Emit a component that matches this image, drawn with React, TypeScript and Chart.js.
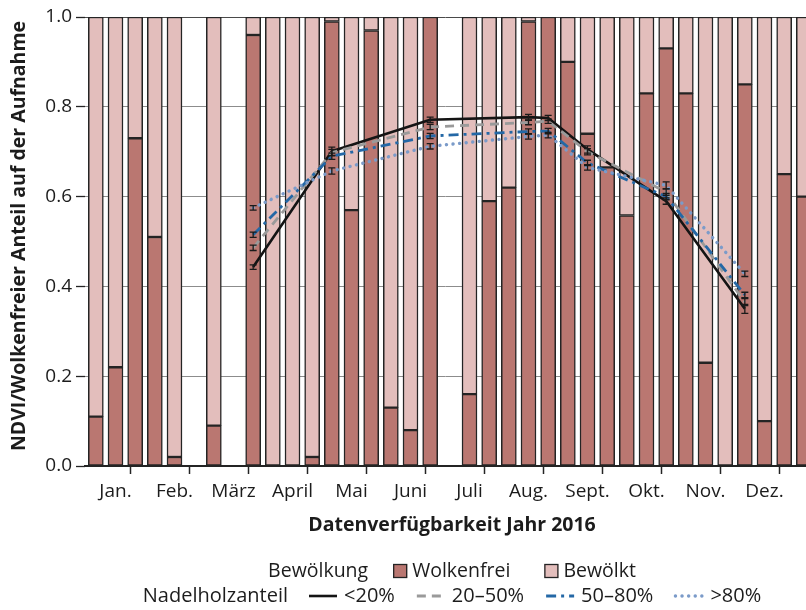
import React, { useEffect, useRef } from "react";
import { Chart, registerables } from "chart.js";

Chart.register(...registerables);

// ---------- data ----------
const monthLabels = ["Jan.", "Feb.", "März", "April", "Mai", "Juni", "Juli", "Aug.", "Sept.", "Okt.", "Nov.", "Dez."];

// cloud-free share per acquisition slot (3 slots per month, plus the first slot of Jan 2017); null = no image
const wolkenfrei: (number | null)[] = [
  0.11, 0.22, 0.73,
  0.51, 0.02, null,
  0.09, null, 0.96,
  0.0, 0.0, 0.02,
  0.99, 0.57, 0.97,
  0.13, 0.08, 1.0,
  null, 0.16, 0.59,
  0.62, 0.99, 1.0,
  0.9, 0.74, 0.665,
  0.558, 0.83, 0.93,
  0.83, 0.23, 0.0,
  0.85, 0.1, 0.65,
  0.6,
];

// slots at which NDVI was measured
const ndviSlots = [8, 12, 17, 22, 23, 25, 29, 33];
const ndviUnder20 = [0.443, 0.701, 0.771, 0.777, 0.775, 0.705, 0.59, 0.35];
const ndvi20to50 = [0.486, 0.698, 0.755, 0.765, 0.768, 0.7, 0.61, 0.365];
const ndvi50to80 = [0.515, 0.69, 0.735, 0.745, 0.746, 0.675, 0.6, 0.381];
const ndviOver80 = [0.575, 0.657, 0.712, 0.734, 0.737, 0.665, 0.625, 0.428];
const errUnder20 = [0.005, 0.009, 0.006, 0.006, 0.006, 0.008, 0.007, 0.01];
const err20to50 = [0.006, 0.007, 0.006, 0.005, 0.005, 0.007, 0.007, 0.008];
const err50to80 = [0.006, 0.007, 0.006, 0.006, 0.006, 0.006, 0.007, 0.006];
const errOver80 = [0.005, 0.007, 0.006, 0.006, 0.006, 0.006, 0.008, 0.006];

const yTicks = [0, 0.2, 0.4, 0.6, 0.8, 1.0];

// ---------- styles ----------
const FONT = "'Open Sans', 'DejaVu Sans', sans-serif";
const TEXT = "#1c1c1c";
const EDGE = "#242424";
const CLEAR_COL = "#ba7771";
const CLOUD_COL = "#e3bebc";

const slotPos = (k: number) => Math.floor(k / 3) + ((k % 3) + 0.5) / 3;

type Series = {
  label: string;
  values: number[];
  errors: number[];
  color: string;
  dash: number[];
  width: number;
  cap: CanvasLineCap;
};

const lineSeries: Series[] = [
  { label: "<20%", values: ndviUnder20, errors: errUnder20, color: "#141414", dash: [], width: 2.6, cap: "butt" },
  { label: "20–50%", values: ndvi20to50, errors: err20to50, color: "#9a9a9a", dash: [9, 6], width: 2.8, cap: "butt" },
  { label: "50–80%", values: ndvi50to80, errors: err50to80, color: "#2468a6", dash: [10, 5, 3, 5], width: 2.8, cap: "butt" },
  { label: ">80%", values: ndviOver80, errors: errOver80, color: "#7b9bc9", dash: [0.1, 6.5], width: 3.4, cap: "round" },
];

const extrasPlugin = {
  id: "extras",
  afterDatasetsDraw(chart: any) {
    const ctx: CanvasRenderingContext2D = chart.ctx;
    const xs = chart.scales.x;
    const ys = chart.scales.y;
    ctx.save();
    ctx.strokeStyle = "#1a1a1a";
    ctx.lineWidth = 1.3;
    ctx.setLineDash([]);
    lineSeries.forEach((s) => {
      s.values.forEach((v, j) => {
        const e = s.errors[j];
        const x = xs.getPixelForValue(slotPos(ndviSlots[j]));
        const y1 = ys.getPixelForValue(v - e);
        const y2 = ys.getPixelForValue(v + e);
        ctx.beginPath();
        ctx.moveTo(x, y1);
        ctx.lineTo(x, y2);
        ctx.moveTo(x - 3.5, y1);
        ctx.lineTo(x + 3.5, y1);
        ctx.moveTo(x - 3.5, y2);
        ctx.lineTo(x + 3.5, y2);
        ctx.stroke();
      });
    });
    ctx.restore();
  },
  afterDraw(chart: any) {
    const ctx: CanvasRenderingContext2D = chart.ctx;
    const cx = 452;
    ctx.save();
    ctx.fillStyle = TEXT;

    // axis titles
    ctx.font = `bold 19.5px ${FONT}`;
    ctx.textAlign = "center";
    ctx.textBaseline = "middle";
    ctx.fillText("Datenverfügbarkeit Jahr 2016", cx, 525);
    ctx.save();
    ctx.translate(19, 236);
    ctx.rotate(-Math.PI / 2);
    ctx.fillText("NDVI/Wolkenfreier Anteil auf der Aufnahme", 0, 0);
    ctx.restore();

    // legend
    ctx.textAlign = "left";
    type Item = { label: string; draw: (x: number, y: number) => void; w: number };
    const boxItem = (label: string, color: string): Item => ({
      label,
      w: 14,
      draw: (x, y) => {
        ctx.fillStyle = color;
        ctx.fillRect(x, y - 7, 14, 14);
        ctx.strokeStyle = EDGE;
        ctx.lineWidth = 1.3;
        ctx.setLineDash([]);
        ctx.strokeRect(x + 0.5, y - 6.5, 13, 13);
      },
    });
    const lineItem = (s: Series): Item => ({
      label: s.label,
      w: 29,
      draw: (x, y) => {
        ctx.strokeStyle = s.color;
        ctx.lineWidth = s.width;
        ctx.lineCap = s.cap;
        ctx.setLineDash(s.dash);
        ctx.beginPath();
        ctx.moveTo(x + 1, y);
        ctx.lineTo(x + 29, y);
        ctx.stroke();
        ctx.setLineDash([]);
        ctx.lineCap = "butt";
      },
    });
    const drawRow = (
      y: number,
      font: string,
      title: string,
      items: Item[],
      titleGap: number,
      symGap: number,
      itemGap: number
    ) => {
      ctx.font = font;
      const tw = ctx.measureText(title).width;
      const widths = items.map((it) => ctx.measureText(it.label).width);
      let total = tw + titleGap;
      items.forEach((it, i) => {
        total += it.w + symGap + widths[i] + (i < items.length - 1 ? itemGap : 0);
      });
      let x = cx - total / 2;
      ctx.fillStyle = TEXT;
      ctx.fillText(title, x, y);
      x += tw + titleGap;
      items.forEach((it, i) => {
        it.draw(x, y);
        x += it.w + symGap;
        ctx.fillStyle = TEXT;
        ctx.font = font;
        ctx.fillText(it.label, x, y);
        x += widths[i] + itemGap;
      });
    };
    drawRow(571, `19.5px ${FONT}`, "Bewölkung", [boxItem("Wolkenfrei", CLEAR_COL), boxItem("Bewölkt", CLOUD_COL)], 25, 5, 34);
    drawRow(596, `20px ${FONT}`, "Nadelholzanteil", lineSeries.map(lineItem), 20, 7, 21);
    ctx.restore();
  },
};

export default function App() {
  const ref = useRef<HTMLCanvasElement | null>(null);

  useEffect(() => {
    document.body.style.margin = "0";
    document.body.style.overflow = "hidden";
    if (!ref.current) return;

    const clearData = wolkenfrei
      .map((w, k) => (w !== null && w > 0 ? { x: slotPos(k), y: w } : null))
      .filter((d) => d !== null);
    const cloudData = wolkenfrei
      .map((w, k) => (w !== null && w < 1 ? { x: slotPos(k), y: [w, 1] } : null))
      .filter((d) => d !== null);

    const barCommon = {
      type: "bar" as const,
      borderColor: EDGE,
      borderWidth: 1.5,
      borderSkipped: false,
      barThickness: 15,
      grouped: false,
      order: 10,
    };

    const datasets: any[] = [
      { ...barCommon, label: "Bewölkt", data: cloudData, backgroundColor: CLOUD_COL },
      { ...barCommon, label: "Wolkenfrei", data: clearData, backgroundColor: CLEAR_COL },
      ...lineSeries.map((s, i) => ({
        type: "line" as const,
        label: s.label,
        data: s.values.map((v, j) => ({ x: slotPos(ndviSlots[j]), y: v })),
        borderColor: s.color,
        borderWidth: s.width,
        borderDash: s.dash,
        borderCapStyle: s.cap,
        borderJoinStyle: "round",
        pointRadius: 0,
        tension: 0,
        fill: false,
        order: 4 - i,
      })),
    ];

    const chart = new Chart(ref.current, {
      type: "bar",
      data: { datasets },
      plugins: [extrasPlugin],
      options: {
        animation: false,
        responsive: false,
        devicePixelRatio: 1,
        layout: { padding: { top: 17, right: 0, bottom: 0, left: 0 } },
        plugins: {
          legend: { display: false },
          tooltip: { enabled: false },
          title: { display: false },
        },
        scales: {
          x: {
            type: "linear",
            min: -1 / 59,
            max: 720 / 59,
            offset: false,
            afterBuildTicks: (s: any) => {
              s.ticks = Array.from({ length: 25 }, (_, i) => ({ value: i / 2 }));
            },
            afterFit: (s: any) => {
              s.height = 144;
            },
            ticks: {
              autoSkip: false,
              maxRotation: 0,
              minRotation: 0,
              padding: 6,
              color: TEXT,
              font: { size: 19, family: FONT },
              callback: (v: any) => {
                const n = Number(v);
                return Number.isInteger(n) ? "" : monthLabels[Math.floor(n)] ?? "";
              },
            },
            grid: {
              drawOnChartArea: false,
              drawTicks: true,
              tickLength: 8,
              tickWidth: 1.5,
              tickColor: (c: any) => (c.tick && Number.isInteger(c.tick.value) ? EDGE : "rgba(0,0,0,0)"),
            },
            border: { display: true, color: EDGE, width: 2 },
          },
          y: {
            type: "linear",
            min: 0,
            max: 1,
            afterBuildTicks: (s: any) => {
              s.ticks = yTicks.map((v) => ({ value: v }));
            },
            afterFit: (s: any) => {
              s.width = 85;
            },
            ticks: {
              padding: 4,
              color: TEXT,
              font: { size: 19, family: FONT },
              callback: (v: any) => Number(v).toFixed(1),
            },
            grid: {
              color: (c: any) => (c.tick && c.tick.value === 1 ? "#4a4a4a" : "#8c8c8c"),
              lineWidth: 1,
              tickLength: 9,
              tickColor: EDGE,
              tickWidth: 1.3,
            },
            border: { display: false },
          },
        },
      } as any,
    });

    return () => chart.destroy();
  }, []);

  return (
    <div style={{ width: 806, height: 610 }}>
      <canvas ref={ref} width={806} height={610} style={{ display: "block" }} />
    </div>
  );
}
